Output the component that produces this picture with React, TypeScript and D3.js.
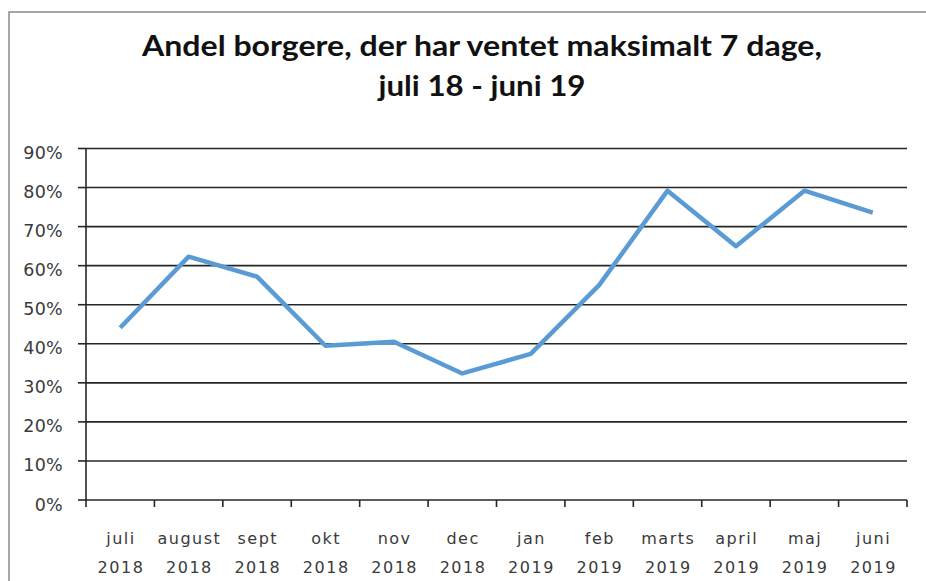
import React from "react";
import * as d3 from "d3";

const months = ["juli", "august", "sept", "okt", "nov", "dec", "jan", "feb", "marts", "april", "maj", "juni"];
const years = ["2018", "2018", "2018", "2018", "2018", "2018", "2019", "2019", "2019", "2019", "2019", "2019"];
const values = [44.1, 62.3, 57.2, 39.5, 40.5, 32.4, 37.4, 55.0, 79.2, 65.0, 79.2, 73.6];
const yTicks = [0, 10, 20, 30, 40, 50, 60, 70, 80, 90];
const titleLines = ["Andel borgere, der har ventet maksimalt 7 dage,", "juli 18 - juni 19"];
const titleWidths = [680, 207];

const W = 926;
const H = 581;
const left = 86;
const right = 907;
const top = 148.5;
const bottom = 500;

export default function App() {
  const x = d3.scaleBand<string>().domain(months).range([left, right]).paddingInner(0).paddingOuter(0);
  const y = d3.scaleLinear().domain([0, 90]).range([bottom, top]);
  const line = d3
    .line<number>()
    .x((_, i) => (x(months[i]) as number) + x.bandwidth() / 2)
    .y((d) => y(d));
  const tickXs = [...months.map((m) => x(m) as number), right];
  const labelFont = "'DejaVu Sans', sans-serif";
  return (
    <div style={{ position: "fixed", left: 0, top: 0 }}>
      <svg width={W} height={H} style={{ display: "block", background: "#fff" }}>
        <rect x={9} y={12} width={W} height={H} fill="#fff" stroke="#8a8a8a" strokeWidth={1.5} />
        {titleLines.map((t, i) => (
          <text
            key={i}
            x={482}
            y={56 + i * 40}
            textAnchor="middle"
            fontFamily="Lato, 'Open Sans', sans-serif"
            fontWeight={700}
            fontSize={29}
            textLength={titleWidths[i]}
            lengthAdjust="spacingAndGlyphs"
            fill="#111"
          >
            {t}
          </text>
        ))}
        {yTicks.map((t) => (
          <g key={t}>
            {t > 0 && <line x1={left} x2={right} y1={y(t)} y2={y(t)} stroke="#262626" strokeWidth={1.6} />}
            <line x1={78} x2={left} y1={y(t)} y2={y(t)} stroke="#262626" strokeWidth={1.6} />
            <text
              x={63}
              y={y(t) + 10.5}
              textAnchor="end"
              fontFamily={labelFont}
              fontSize={17.5}
              letterSpacing={0.3}
              fill="#3a3a3a"
            >
              {t + "%"}
            </text>
          </g>
        ))}
        <line x1={left} x2={left} y1={top} y2={bottom} stroke="#262626" strokeWidth={1.6} />
        <line x1={left} x2={right} y1={bottom} y2={bottom} stroke="#262626" strokeWidth={1.6} />
        {tickXs.map((tx, i) => (
          <line key={i} x1={tx} x2={tx} y1={bottom} y2={507} stroke="#262626" strokeWidth={1.6} />
        ))}
        {months.map((m, i) => {
          const cx = (x(m) as number) + x.bandwidth() / 2 + 0.75;
          return (
            <g key={m} fontFamily={labelFont} fontSize={16} letterSpacing={1.5} fill="#3a3a3a" textAnchor="middle">
              <text x={cx} y={544}>{m}</text>
              <text x={cx} y={573}>{years[i]}</text>
            </g>
          );
        })}
        <path d={line(values) || ""} fill="none" stroke="#5b9bd5" strokeWidth={4.5} strokeLinejoin="round" />
      </svg>
    </div>
  );
}
